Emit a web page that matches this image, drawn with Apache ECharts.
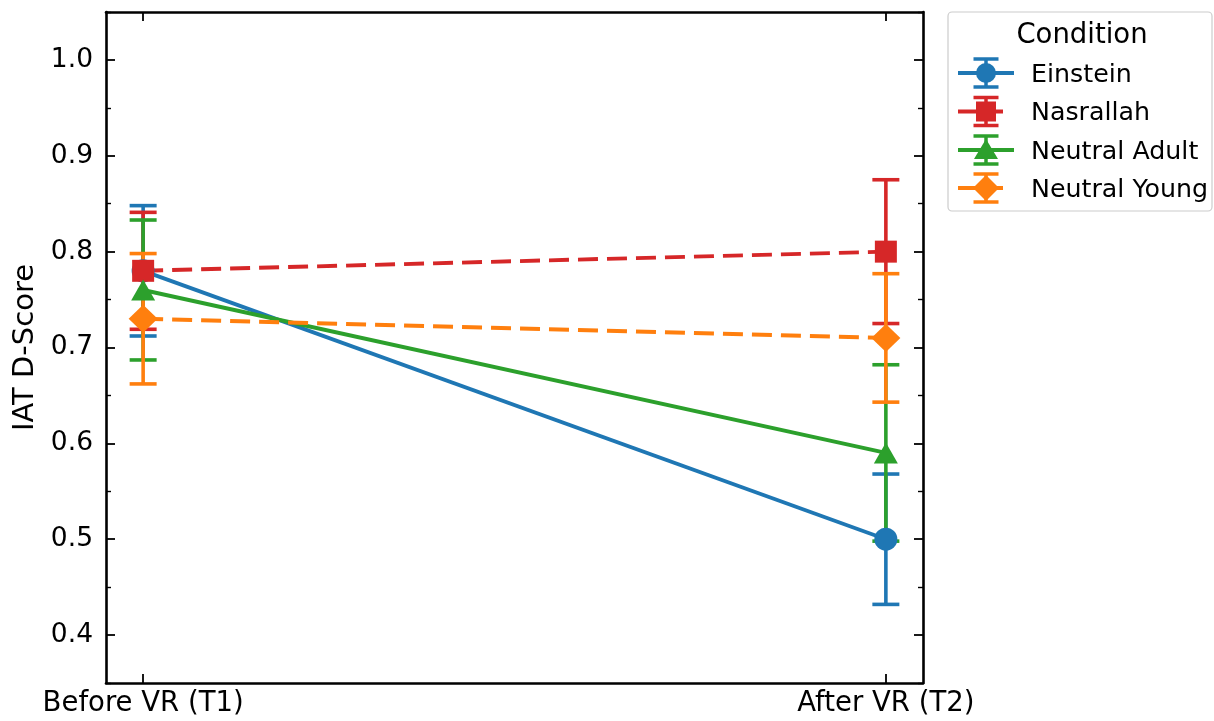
<!DOCTYPE html>
<html>
<head>
<meta charset="utf-8">
<script src="https://cdn.jsdelivr.net/npm/echarts@6/dist/echarts.min.js"></script>
<style>html,body{margin:0;padding:0;background:#fff}#c{width:1214px;height:721px}</style>
</head>
<body>
<div id="c"></div>
<script>
const timeLabels = ['Before VR (T1)', 'After VR (T2)'];
const timePos = [0, 1];
const conditions = ['Einstein', 'Nasrallah', 'Neutral Adult', 'Neutral Young'];
const einsteinMean = [0.78, 0.50];
const einsteinErr = [0.068, 0.068];
const nasrallahMean = [0.78, 0.80];
const nasrallahErr = [0.061, 0.075];
const adultMean = [0.76, 0.59];
const adultErr = [0.073, 0.092];
const youngMean = [0.73, 0.71];
const youngErr = [0.068, 0.067];
const yMajorTicks = [0.4, 0.5, 0.6, 0.7, 0.8, 0.9, 1.0];
const yMinorTicks = [0.35, 0.45, 0.55, 0.65, 0.75, 0.85, 0.95, 1.05];

const means = [einsteinMean, nasrallahMean, adultMean, youngMean];
const errs = [einsteinErr, nasrallahErr, adultErr, youngErr];
const colors = ['#1f77b4', '#d62728', '#2ca02c', '#ff7f0e'];
const symbols = ['circle', 'rect', 'triangle', 'diamond'];
const symSizes = [23, 22, [24, 21], [29, 28]];
const dashed = [false, true, false, true];

const FONT = 'DejaVu Sans';
const series = [];
conditions.forEach((name, i) => {
  series.push({
    type: 'custom',
    name: name + ' err',
    z: 2,
    data: timePos.map((x, k) => [x, means[i][k] - errs[i][k], means[i][k] + errs[i][k]]),
    renderItem: function (params, api) {
      const x = api.value(0);
      const lo = api.coord([x, api.value(1)]);
      const hi = api.coord([x, api.value(2)]);
      const c = colors[i];
      const st = { stroke: c, lineWidth: 3.6 };
      const hw = 13.5;
      return {
        type: 'group',
        children: [
          { type: 'line', shape: { x1: lo[0], y1: lo[1], x2: hi[0], y2: hi[1] }, style: st },
          { type: 'line', shape: { x1: lo[0] - hw, y1: lo[1], x2: lo[0] + hw, y2: lo[1] }, style: st },
          { type: 'line', shape: { x1: hi[0] - hw, y1: hi[1], x2: hi[0] + hw, y2: hi[1] }, style: st }
        ]
      };
    },
    silent: true
  });
});
conditions.forEach((name, i) => {
  series.push({
    type: 'line',
    name: name,
    z: 3,
    data: timePos.map((x, k) => [x, means[i][k]]),
    symbol: symbols[i],
    symbolSize: symSizes[i],
    showAllSymbol: true,
    itemStyle: { color: colors[i], opacity: 1 },
    lineStyle: { color: colors[i], width: 3.9, type: dashed[i] ? [20, 9] : 'solid' },
    emphasis: { disabled: true },
    animation: false
  });
});

// legend drawn as graphic elements
const legendRowsY = [73, 111.5, 150, 188];
const legendGraphics = [
  { type: 'rect', shape: { x: 948, y: 12, width: 264, height: 199, r: 4 }, style: { fill: '#fff', stroke: '#cccccc', lineWidth: 1.2 }, z: 10 },
  { type: 'text', x: 1082, y: 36, style: { text: 'Condition', fontFamily: FONT, fontSize: 27.5, fill: '#000', align: 'center', verticalAlign: 'middle' }, z: 11 }
];
conditions.forEach((name, i) => {
  const cy = legendRowsY[i], cx = 986, c = colors[i];
  const st = { stroke: c, lineWidth: 3.9 };
  const bst = { stroke: c, lineWidth: 3.5 };
  const lx2 = dashed[i] ? cx + 17 : cx + 28;
  legendGraphics.push(
    { type: 'line', z: 11, shape: { x1: cx - 28, y1: cy, x2: lx2, y2: cy }, style: st },
    { type: 'line', z: 11, shape: { x1: cx, y1: cy - 14, x2: cx, y2: cy + 14 }, style: bst },
    { type: 'line', z: 11, shape: { x1: cx - 12.5, y1: cy - 14, x2: cx + 12.5, y2: cy - 14 }, style: bst },
    { type: 'line', z: 11, shape: { x1: cx - 12.5, y1: cy + 14, x2: cx + 12.5, y2: cy + 14 }, style: bst }
  );
  if (symbols[i] === 'circle') legendGraphics.push({ type: 'circle', z: 12, shape: { cx: cx, cy: cy, r: 10 }, style: { fill: c } });
  if (symbols[i] === 'rect') legendGraphics.push({ type: 'rect', z: 12, shape: { x: cx - 10, y: cy - 10, width: 20, height: 20 }, style: { fill: c } });
  if (symbols[i] === 'triangle') legendGraphics.push({ type: 'polygon', z: 12, shape: { points: [[cx, cy - 11], [cx + 12, cy + 9], [cx - 12, cy + 9]] }, style: { fill: c } });
  if (symbols[i] === 'diamond') legendGraphics.push({ type: 'polygon', z: 12, shape: { points: [[cx, cy - 13], [cx + 13, cy], [cx, cy + 13], [cx - 13, cy]] }, style: { fill: c } });
  legendGraphics.push({ type: 'text', z: 12, x: 1031, y: cy + 2, style: { text: name, fontFamily: FONT, fontSize: 25.3, fill: '#000', align: 'left', verticalAlign: 'middle' } });
});

const yBase = { type: 'value', min: 0.35, max: 1.05, splitLine: { show: false } };
const axLine = { show: true, onZero: false, lineStyle: { color: '#000', width: 2.6 } };
const chart = echarts.init(document.getElementById('c'));
chart.setOption({
  animation: false,
  backgroundColor: '#fff',
  grid: { left: 106, right: 291, top: 12, bottom: 38 },
  xAxis: [
    {
      type: 'value', min: -0.05, max: 1.05, position: 'bottom',
      axisLine: axLine,
      axisTick: { show: true, inside: true, length: 9, lineStyle: { color: '#000', width: 1.8 }, customValues: timePos },
      axisLabel: { customValues: timePos, formatter: v => timeLabels[Math.round(v)], color: '#000', fontFamily: FONT, fontSize: 27.5, margin: 7 },
      splitLine: { show: false }
    },
    {
      type: 'value', min: -0.05, max: 1.05, position: 'top',
      axisLine: axLine,
      axisTick: { show: true, inside: true, length: 9, lineStyle: { color: '#000', width: 1.8 }, customValues: timePos },
      axisLabel: { show: false },
      splitLine: { show: false }
    }
  ],
  yAxis: [
    Object.assign({}, yBase, {
      position: 'left',
      name: 'IAT D-Score', nameLocation: 'middle', nameGap: 63,
      nameTextStyle: { fontFamily: FONT, fontSize: 29, color: '#000' },
      axisLine: axLine,
      axisTick: { show: true, inside: true, length: 9, lineStyle: { color: '#000', width: 1.8 }, customValues: yMajorTicks },
      axisLabel: { customValues: yMajorTicks, formatter: v => v.toFixed(1), color: '#000', fontFamily: FONT, fontSize: 26.5, margin: 13 }
    }),
    Object.assign({}, yBase, {
      position: 'left',
      axisLine: { show: false, onZero: false },
      axisTick: { show: true, inside: true, length: 5, lineStyle: { color: '#000', width: 1.4 }, customValues: yMinorTicks },
      axisLabel: { show: false }
    }),
    Object.assign({}, yBase, {
      position: 'right',
      axisLine: axLine,
      axisTick: { show: true, inside: true, length: 9, lineStyle: { color: '#000', width: 1.8 }, customValues: yMajorTicks },
      axisLabel: { show: false }
    }),
    Object.assign({}, yBase, {
      position: 'right',
      axisLine: { show: false, onZero: false },
      axisTick: { show: true, inside: true, length: 5, lineStyle: { color: '#000', width: 1.4 }, customValues: yMinorTicks },
      axisLabel: { show: false }
    })
  ],
  graphic: legendGraphics,
  series: series
});
</script>
</body>
</html>
